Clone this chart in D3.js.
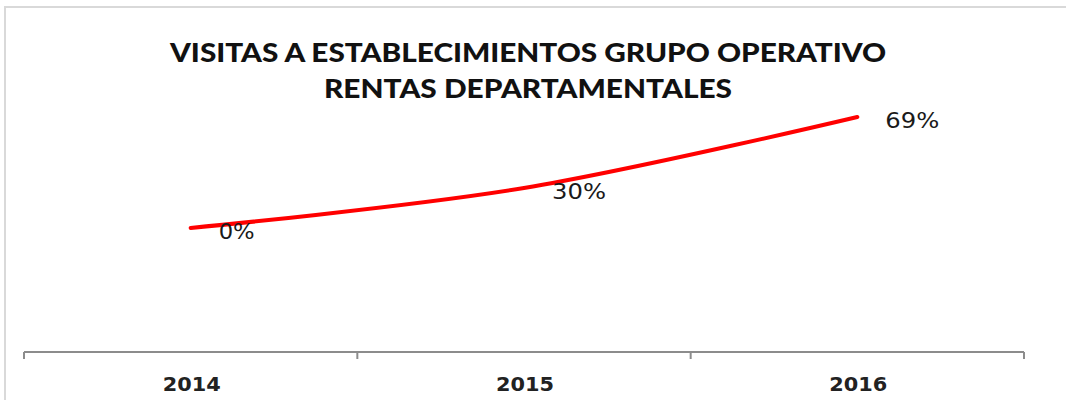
<!DOCTYPE html>
<html><head><meta charset="utf-8">
<script src="https://cdn.jsdelivr.net/npm/d3@7"></script>
<style>html,body{margin:0;padding:0;background:#fff;overflow:hidden}</style>
</head><body>
<svg id="c" width="1066" height="400"></svg>
<script>
const categories = ["2014", "2015", "2016"];
const values = [124, 164, 235];
const valueLabels = ["0%", "30%", "69%"];
const titleLines = ["VISITAS A ESTABLECIMIENTOS GRUPO OPERATIVO", "RENTAS DEPARTAMENTALES"];

const svg = d3.select("#c");
// chart area border
svg.append("path").attr("d", "M5,400 V7 H1066").attr("fill", "none")
  .attr("stroke", "#d9d9d9").attr("stroke-width", 2);

const x = d3.scaleBand().domain(categories).range([24, 1024]).padding(0);
const y = d3.scaleLinear().domain([0, 250]).range([352, 102]);

// x axis
const ax = svg.append("g").attr("transform", "translate(0,352)")
  .call(d3.axisBottom(x).tickSize(0).tickPadding(0).tickFormat(""));
ax.select(".domain").remove();
svg.append("line").attr("x1", 24).attr("x2", 1024).attr("y1", 352).attr("y2", 352)
  .attr("stroke", "#8c8c8c").attr("stroke-width", 2);
const edges = categories.map(c => x(c)).concat([x.range()[1]]);
svg.selectAll(".tk").data(edges).enter().append("line")
  .attr("x1", d => d).attr("x2", d => d).attr("y1", 352).attr("y2", 359)
  .attr("stroke", "#8c8c8c").attr("stroke-width", 2);
svg.selectAll(".xl").data(categories).enter().append("text")
  .attr("x", d => x(d) + x.bandwidth() / 2 + 1).attr("y", 391)
  .attr("text-anchor", "middle").attr("font-family", "DejaVu Sans")
  .attr("font-weight", "bold").attr("font-size", 19).attr("fill", "#222")
  .attr("textLength", 58).attr("lengthAdjust", "spacingAndGlyphs")
  .text(d => d);

// title
svg.selectAll(".tt").data(titleLines).enter().append("text")
  .attr("x", 528).attr("y", (d, i) => 62 + i * 36)
  .attr("text-anchor", "middle").attr("font-family", "Lato")
  .attr("font-weight", 900).attr("font-size", 27).attr("fill", "#111")
  .attr("textLength", (d, i) => i === 0 ? 716 : 408).attr("lengthAdjust", "spacingAndGlyphs")
  .text(d => d);

// line
const cx = c => x(c) + x.bandwidth() / 2;
const line = d3.line().x((d, i) => cx(categories[i])).y(d => y(d)).curve(d3.curveCatmullRom.alpha(0.5));
svg.append("path").datum(values).attr("d", line).attr("fill", "none")
  .attr("stroke", "#ff0000").attr("stroke-width", 4).attr("stroke-linecap", "round");

// data labels
svg.selectAll(".dl").data(values).enter().append("text")
  .attr("x", (d, i) => cx(categories[i]) + 28).attr("y", d => y(d) + 11)
  .attr("font-family", "DejaVu Sans").attr("font-size", 21).attr("fill", "#1a1a1a")
  .attr("textLength", (d, i) => valueLabels[i].length === 2 ? 36 : 54).attr("lengthAdjust", "spacingAndGlyphs")
  .text((d, i) => valueLabels[i]);
</script>
</body></html>
